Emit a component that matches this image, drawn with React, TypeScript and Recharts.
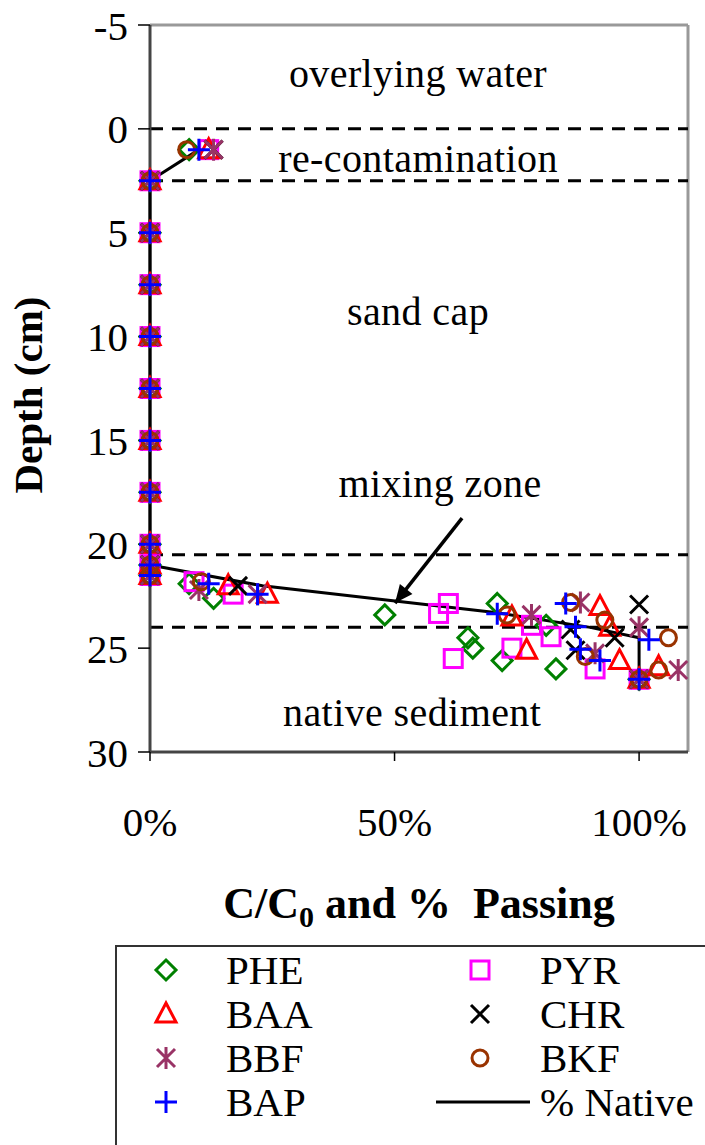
import React from 'react';
import { ScatterChart, Scatter, XAxis, YAxis, ReferenceLine, ReferenceDot } from 'recharts';

const FONT = '"Liberation Serif", "Times New Roman", Times, serif';

// depth (cm) vs C/C0
const PHE_DEPTH = [1.0, 2.5, 5, 7.5, 10, 12.5, 15, 17.5, 20, 21, 21.5, 21.9, 22.6, 23.4, 22.85, 24.5, 25.0, 25.6, 23.9, 26.0, 26.5];
const PHE_C = [0.08, 0, 0, 0, 0, 0, 0, 0, 0, 0, 0, 0.08, 0.13, 0.48, 0.71, 0.65, 0.66, 0.72, 0.81, 0.83, 1.0];

const PYR_DEPTH = [1.0, 2.5, 5, 7.5, 10, 12.5, 15, 17.5, 20, 21, 21.5, 21.8, 22.4, 22.85, 23.33, 25.5, 25.0, 23.9, 24.45, 26.0, 26.5];
const PYR_C = [0.12, 0, 0, 0, 0, 0, 0, 0, 0, 0, 0, 0.09, 0.17, 0.61, 0.59, 0.62, 0.74, 0.78, 0.82, 0.91, 1.0];

const BAA_DEPTH = [1.0, 2.5, 5, 7.5, 10, 12.5, 15, 17.5, 20, 21, 21.5, 22.0, 22.4, 23.5, 25.1, 23.0, 24.0, 25.6, 25.9, 26.5];
const BAA_C = [0.12, 0, 0, 0, 0, 0, 0, 0, 0, 0, 0, 0.16, 0.24, 0.74, 0.77, 0.92, 0.94, 0.96, 1.04, 1.0];

const CHR_DEPTH = [1.0, 2.5, 5, 7.5, 10, 12.5, 15, 17.5, 20, 21, 21.5, 22.0, 24.1, 25.1, 22.9, 24.5, 26.5];
const CHR_C = [0.13, 0, 0, 0, 0, 0, 0, 0, 0, 0, 0, 0.18, 0.86, 0.87, 1.0, 0.95, 1.0];

const BBF_DEPTH = [1.0, 2.5, 5, 7.5, 10, 12.5, 15, 17.5, 20, 21, 21.5, 22.2, 22.4, 23.4, 22.8, 25.25, 24.0, 26.05, 26.5];
const BBF_C = [0.13, 0, 0, 0, 0, 0, 0, 0, 0, 0, 0, 0.1, 0.22, 0.78, 0.88, 0.91, 1.0, 1.08, 1.0];

const BKF_DEPTH = [1.0, 2.5, 5, 7.5, 10, 12.5, 15, 17.5, 20, 21, 21.5, 21.8, 23.4, 22.8, 23.65, 25.4, 24.5, 26.05, 26.5];
const BKF_C = [0.075, 0, 0, 0, 0, 0, 0, 0, 0, 0, 0, 0.105, 0.73, 0.86, 0.93, 0.89, 1.06, 1.04, 1.0];

const BAP_DEPTH = [1.0, 2.5, 5, 7.5, 10, 12.5, 15, 17.5, 20, 21, 21.5, 21.9, 22.4, 23.35, 22.85, 23.97, 25.05, 25.6, 24.6, 26.5];
const BAP_C = [0.1, 0, 0, 0, 0, 0, 0, 0, 0, 0, 0, 0.12, 0.22, 0.71, 0.85, 0.87, 0.88, 0.92, 1.02, 1.0];

// % native sediment profile
const NATIVE_DEPTH = [1.0, 2.5, 5, 7.5, 10, 12.5, 15, 17.5, 20, 21, 22, 23.3, 24.0, 24.5, 26.5];
const NATIVE_C = [0.1, 0, 0, 0, 0, 0, 0, 0, 0, 0, 0.23, 0.71, 0.9, 1.0, 1.0];

const X_TICKS = [0, 0.5, 1];
const Y_TICKS = [-5, 0, 5, 10, 15, 20, 25, 30];
const LAYER_LINES = [0, 2.5, 20.5, 24];

const NOTES = [
  { text: 'overlying water', x: 0.548, depth: -2.7 },
  { text: 're-contamination', x: 0.548, depth: 1.4 },
  { text: 'sand cap', x: 0.548, depth: 8.77 },
  { text: 'mixing zone', x: 0.593, depth: 17.05 },
  { text: 'native sediment', x: 0.536, depth: 28.08 },
];

// arrow from "mixing zone" label down to the profile
const ARROW_FROM = { x: 0.638, depth: 18.74 };
const ARROW_TO = { x: 0.501, depth: 22.83 };

const W = 705;
const PLOT_LEFT = 150;
const PLOT_RIGHT = 688;
const PLOT_TOP = 25;
const PLOT_BOTTOM = 752;
const CHART_H = 940;
const PX_X = (PLOT_RIGHT - PLOT_LEFT) / 1.1;
const PX_Y = (PLOT_BOTTOM - PLOT_TOP) / 35;

type Kind = 'diamond' | 'square' | 'triangle' | 'cross' | 'star' | 'circle' | 'plus';

function mark(kind: Kind, cx: number, cy: number, color: string) {
  const p = { fill: 'none', stroke: color, strokeWidth: 3 };
  switch (kind) {
    case 'diamond':
      return <path d={`M${cx} ${cy - 10}L${cx + 10} ${cy}L${cx} ${cy + 10}L${cx - 10} ${cy}Z`} {...p} />;
    case 'square':
      return <rect x={cx - 9} y={cy - 9} width={18} height={18} {...p} />;
    case 'triangle':
      return <path d={`M${cx} ${cy - 11}L${cx + 10} ${cy + 8}L${cx - 10} ${cy + 8}Z`} {...p} />;
    case 'cross':
      return <path d={`M${cx - 9} ${cy - 9}L${cx + 9} ${cy + 9}M${cx + 9} ${cy - 9}L${cx - 9} ${cy + 9}`} {...p} />;
    case 'star':
      return <path d={`M${cx - 9} ${cy - 9}L${cx + 9} ${cy + 9}M${cx + 9} ${cy - 9}L${cx - 9} ${cy + 9}M${cx} ${cy - 11}L${cx} ${cy + 11}`} {...p} />;
    case 'circle':
      return <circle cx={cx} cy={cy} r={8} {...p} />;
    default:
      return <path d={`M${cx - 11} ${cy}L${cx + 11} ${cy}M${cx} ${cy - 11}L${cx} ${cy + 11}`} {...p} />;
  }
}

const toPoints = (depth: number[], c: number[]) => depth.map((d, i) => ({ c: c[i], depth: d }));

const SERIES: { name: string; kind: Kind; color: string; data: { c: number; depth: number }[] }[] = [
  { name: 'PHE', kind: 'diamond', color: '#008000', data: toPoints(PHE_DEPTH, PHE_C) },
  { name: 'PYR', kind: 'square', color: '#FF00FF', data: toPoints(PYR_DEPTH, PYR_C) },
  { name: 'BAA', kind: 'triangle', color: '#FF0000', data: toPoints(BAA_DEPTH, BAA_C) },
  { name: 'CHR', kind: 'cross', color: '#000000', data: toPoints(CHR_DEPTH, CHR_C) },
  { name: 'BBF', kind: 'star', color: '#993366', data: toPoints(BBF_DEPTH, BBF_C) },
  { name: 'BKF', kind: 'circle', color: '#993300', data: toPoints(BKF_DEPTH, BKF_C) },
  { name: 'BAP', kind: 'plus', color: '#0000FF', data: toPoints(BAP_DEPTH, BAP_C) },
];

const LEGEND_ORDER = ['PHE', 'PYR', 'BAA', 'CHR', 'BBF', 'BKF', 'BAP'];

function Legend() {
  const rows = [970, 1014, 1058, 1102];
  const top = 940;
  return (
    <svg width={W} height={205} style={{ position: 'absolute', left: 0, top }}>
      <rect x={116} y={6} width={700} height={400} fill="#fff" stroke="#333" strokeWidth={2} />
      {LEGEND_ORDER.map((name, i) => {
        const s = SERIES.find((q) => q.name === name)!;
        const col = i % 2;
        const y = rows[Math.floor(i / 2)] - top;
        const mx = col === 0 ? 166 : 480;
        const tx = col === 0 ? 226 : 540;
        return (
          <g key={name}>
            {mark(s.kind, mx, y, s.color)}
            <text x={tx} y={y} dy="0.35em" fontSize={41} fontFamily={FONT} fill="#000">{name}</text>
          </g>
        );
      })}
      <line x1={436} x2={530} y1={rows[3] - top} y2={rows[3] - top} stroke="#000" strokeWidth={3} />
      <text x={540} y={rows[3] - top} dy="0.35em" fontSize={41} fontFamily={FONT} fill="#000">% Native</text>
    </svg>
  );
}

export default function App() {
  const ax = (ARROW_TO.x - ARROW_FROM.x) * PX_X;
  const ay = (ARROW_TO.depth - ARROW_FROM.depth) * PX_Y;
  const ang = (Math.atan2(ay, ax) * 180) / Math.PI;

  return (
    <div style={{ position: 'absolute', left: 0, top: 0, width: W, height: 1145, overflow: 'hidden', background: '#fff' }}>
      <ScatterChart
        width={W}
        height={CHART_H}
        margin={{ top: PLOT_TOP, right: W - PLOT_RIGHT, bottom: 0, left: 0 }}
      >
        <XAxis
          type="number"
          dataKey="c"
          domain={[0, 1.1]}
          ticks={X_TICKS}
          tickFormatter={(v: number) => `${Math.round(v * 100)}%`}
          height={CHART_H - PLOT_BOTTOM}
          tickSize={9}
          tickMargin={46}
          tick={{ fontSize: 41, fill: '#000', fontFamily: FONT }}
          tickLine={{ stroke: '#000', strokeWidth: 1.5 }}
          axisLine={{ stroke: '#444', strokeWidth: 3 }}
          label={(props: any) => {
            const vb = props.viewBox || { x: PLOT_LEFT, y: PLOT_BOTTOM, width: PLOT_RIGHT - PLOT_LEFT };
            return (
              <text x={vb.x + vb.width / 2} y={vb.y + 166} textAnchor="middle" fontSize={44} fontWeight="bold" fontFamily={FONT} fill="#000">
                C/C<tspan fontSize={30} dy={9}>0</tspan><tspan dy={-9}> and % &#160;Passing</tspan>
              </text>
            );
          }}
        />
        <YAxis
          type="number"
          dataKey="depth"
          domain={[-5, 30]}
          reversed
          ticks={Y_TICKS}
          tickFormatter={(v: number) => String(v)}
          width={PLOT_LEFT}
          tickSize={12}
          tickMargin={10}
          tick={{ fontSize: 41, fill: '#000', fontFamily: FONT }}
          tickLine={{ stroke: '#000', strokeWidth: 1.5 }}
          axisLine={{ stroke: '#444', strokeWidth: 3 }}
          label={() => (
            <text x={42} y={395} transform="rotate(-90, 42, 395)" textAnchor="middle" fontSize={41} fontWeight="bold" fontFamily={FONT} fill="#000">
              Depth (cm)
            </text>
          )}
        />
        <ReferenceLine y={-5} stroke="#999" strokeWidth={3} />
        <ReferenceLine x={1.1} stroke="#999" strokeWidth={3} />
        {LAYER_LINES.map((d) => (
          <ReferenceLine key={d} y={d} stroke="#000" strokeWidth={3} strokeDasharray="13 9" />
        ))}
        {NOTES.map((n) => (
          <ReferenceDot
            key={n.text}
            x={n.x}
            y={n.depth}
            r={0}
            shape={(p: any) => (
              <text x={p.cx} y={p.cy} dy="0.35em" textAnchor="middle" fontSize={40} letterSpacing={0.4} fontFamily={FONT} fill="#000">
                {n.text}
              </text>
            )}
          />
        ))}
        <ReferenceLine
          segment={[{ x: ARROW_FROM.x, y: ARROW_FROM.depth }, { x: ARROW_TO.x, y: ARROW_TO.depth }]}
          stroke="#000"
          strokeWidth={3.5}
        />
        <ReferenceDot
          x={ARROW_TO.x}
          y={ARROW_TO.depth}
          r={0}
          shape={(p: any) => (
            <path d="M0 0L-18 -8L-18 8Z" fill="#000" transform={`translate(${p.cx},${p.cy}) rotate(${ang})`} />
          )}
        />
        <Scatter
          name="% Native"
          data={toPoints(NATIVE_DEPTH, NATIVE_C)}
          line={{ stroke: '#000', strokeWidth: 3 }}
          lineType="joint"
          shape={() => <g />}
          isAnimationActive={false}
        />
        {SERIES.map((s) => (
          <Scatter
            key={s.name}
            name={s.name}
            data={s.data}
            shape={(p: any) => mark(s.kind, p.cx, p.cy, s.color)}
            isAnimationActive={false}
          />
        ))}
      </ScatterChart>
      <Legend />
    </div>
  );
}
